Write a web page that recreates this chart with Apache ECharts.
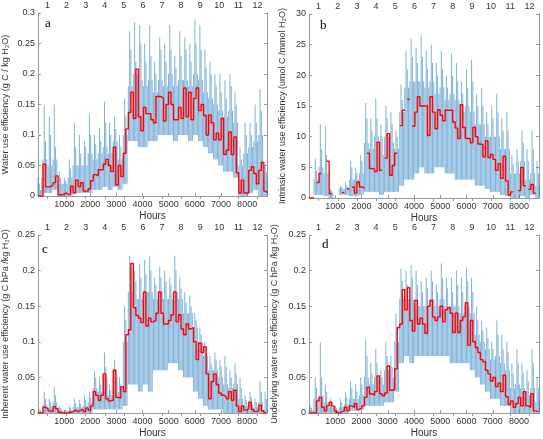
<!DOCTYPE html>
<html lang="en">
<head>
<meta charset="UTF-8">
<title>Water use efficiency</title>
<script src="https://cdn.jsdelivr.net/npm/echarts@6/dist/echarts.min.js"></script>
<style>
    body { margin: 0; padding: 0; background: #fff; }
    #chart { width: 543px; height: 439px; }
</style>
</head>
<body>
<div id="chart"></div>
<script>
// red: 4-day means (96 h steps), blue: hourly values summarised per 192 h window
// (low, highest peak, second peak, typical peak)
var STEP_H = 96;
var WIN_H = 192;
var YEAR_H = 8760;
var hourTicks = [1000, 2000, 3000, 4000, 5000, 6000, 7000, 8000];
var monthTicks = [1, 2, 3, 4, 5, 6, 7, 8, 9, 10, 11, 12];

// ---- a: water use efficiency ----
var redA = [0, 0, 0.052, 0.015, 0.015, 0.018, 0.022, 0.033, 0.002, 0.002,
    0.005, 0.003, 0.003, 0.016, 0.005, 0.026, 0.015, 0.022, 0.008, 0.008,
    0.012, 0.025, 0.035, 0.033, 0.043, 0.043, 0.052, 0.06, 0.05, 0.04,
    0.08, 0.018, 0.05, 0.032, 0.07, 0.11, 0.137, 0.17, 0.127, 0.208,
    0.13, 0.107, 0.145, 0.135, 0.135, 0.125, 0.12, 0.163, 0.163, 0.16,
    0.123, 0.15, 0.17, 0.15, 0.125, 0.125, 0.145, 0.127, 0.177, 0.13,
    0.17, 0.125, 0.16, 0.177, 0.14, 0.15, 0.132, 0.1, 0.133, 0.12,
    0.092, 0.103, 0.092, 0.127, 0.068, 0.075, 0.105, 0.068, 0.097, 0.038,
    0.005, 0.026, 0.005, 0.005, 0.042, 0.048, 0.037, 0.02, 0.042, 0.055,
    0.008, 0.005];
var hiA = [0.02, 0.148, 0.13, 0.15, 0.04, 0.03, 0.06, 0.12, 0.1, 0.09, 0.135, 0.1, 0.11, 0.155, 0.12, 0.13,
    0.1, 0.16, 0.27, 0.285, 0.28, 0.25, 0.28, 0.22, 0.26, 0.25, 0.28, 0.23, 0.27, 0.26, 0.25, 0.288,
    0.28, 0.24, 0.22, 0.2, 0.2, 0.19, 0.2, 0.17, 0.08, 0.12, 0.12, 0.15, 0.175, 0.05];
var hi2A = [0.01, 0.09, 0.1, 0.08, 0.03, 0.025, 0.045, 0.08, 0.07, 0.08, 0.1, 0.085, 0.09, 0.12, 0.1, 0.11,
    0.08, 0.13, 0.24, 0.22, 0.25, 0.22, 0.23, 0.2, 0.24, 0.22, 0.24, 0.21, 0.23, 0.24, 0.22, 0.25,
    0.24, 0.21, 0.2, 0.18, 0.17, 0.16, 0.18, 0.15, 0.06, 0.1, 0.1, 0.12, 0.14, 0.04];
var midA = [0.03, 0.06, 0.05, 0.06, 0.02, 0.02, 0.03, 0.05, 0.05, 0.05, 0.07, 0.06, 0.07, 0.08, 0.07, 0.09,
    0.06, 0.1, 0.18, 0.2, 0.19, 0.18, 0.19, 0.17, 0.19, 0.18, 0.2, 0.18, 0.19, 0.19, 0.18, 0.2,
    0.19, 0.17, 0.16, 0.15, 0.14, 0.13, 0.14, 0.12, 0.05, 0.07, 0.08, 0.09, 0.1, 0.03];
var loA = [0, 0.005, 0.005, 0.01, 0, 0, 0, 0.005, 0.005, 0.005, 0.005, 0.01, 0.01, 0.015, 0.01, 0.015,
    0.01, 0.02, 0.09, 0.09, 0.08, 0.08, 0.09, 0.09, 0.1, 0.1, 0.1, 0.09, 0.1, 0.1, 0.09, 0.1,
    0.09, 0.08, 0.07, 0.06, 0.05, 0.04, 0.04, 0.03, 0, 0, 0.005, 0.01, 0, 0];

// ---- b: intrinsic water use efficiency (null = no data) ----
var redB = [0, 0, null, 2.5, 4.0, null, null, 6.0, 0.7, null,
    null, null, null, 0.87, null, 1.5, null, 1.8, 0.8, 2.6,
    1.8, 1.6, null, 7.3, 4.8, 4.7, 4.3, 9.1, 4.5, null,
    6.5, 10.5, 3.7, 5.3, 7.3, null, 11.8, 14.3, null, 16.1,
    null, 11.7, 14, 16.5, 15, 15, 15, 10.2, 16.5, 14,
    11.3, 14.4, 13.5, 12.6, 14.3, 14.3, 14.3, 12.4, 11.4, 9.7,
    15.2, 11.5, 9.7, 9.7, 9, 11.5, 10, 8.8, 8.7, 6.7,
    9.3, 6.6, 7.1, 6.3, 4.5, 5.6, 3.2, 6.8, 2.8, 0.5,
    1.0, null, null, 1.2, 5.0, 2.0, null, 1.4, 2.2, 0.8,
    null, null];
var hiB = [null, 6.5, 12, 11.7, 1.5, null, 2, 2.5, 6, 5, 7, 15.5, 13, 16.2, 12, 15,
    14, 11, 18.5, 24, 26, 24.5, 26.5, 24, 25, 22, 24, 20, 23.5, 22, 19, 21,
    22.5, 17, 18, 14, 15, 17, 13, 14, 7, 8, 11, 8, 11, 6];
var hi2B = [null, 4.5, 8, 7, 1.2, null, 1.8, 2, 5, 4, 6, 13, 11, 13, 10, 13,
    12, 10, 16, 21, 23, 22, 23, 21, 22, 20, 21, 18, 20, 19, 17, 18,
    19, 15, 15, 12, 13, 14, 11, 11, 5.5, 6, 9, 6, 8, 4];
var midB = [null, 3, 5, 4, 1, null, 1.5, 1.5, 3, 3, 4, 9, 8, 10, 7, 10,
    9, 8, 14, 18, 19, 19, 19, 18, 19, 17, 18, 16, 17, 16, 14, 15,
    14, 12, 12, 10, 10, 10, 8, 8, 4, 4, 6, 3, 4, 2];
var loB = [null, 0.5, 0.5, 0.3, 0, null, 0.5, 0.5, 0.3, 0.3, 0.5, 1, 1, 1, 0.5, 1,
    1, 1, 2, 3, 3, 4, 5, 4, 4, 5, 5, 4, 4, 3, 3, 3,
    3, 2, 2, 1.5, 1, 1, 0.5, 0.3, 0, 0, 0.3, 0, 0.5, 0];

// ---- c: inherent water use efficiency ----
var redC = [0, 0, 0.008, 0.006, 0.003, 0.002, 0.009, 0.006, 0.001, 0,
    0, 0, 0.001, 0.002, 0.004, 0.002, 0.004, 0.005, 0.002, 0.007,
    0.004, 0.01, 0.03, 0.025, 0.018, 0.025, 0.055, 0.02, 0.017, 0.018,
    0.06, 0.022, 0.021, 0.037, 0.03, 0.11, 0.117, 0.21, 0.148, 0.137,
    0.133, 0.127, 0.17, 0.122, 0.133, 0.128, 0.13, 0.14, 0.17, 0.14,
    0.125, 0.125, 0.13, 0.138, 0.17, 0.128, 0.138, 0.118, 0.11, 0.125,
    0.118, 0.12, 0.1, 0.075, 0.098, 0.085, 0.093, 0.055, 0.02, 0.044,
    0.055, 0.04, 0.028, 0.025, 0.023, 0.02, 0.03, 0.018, 0.032, 0.01,
    0.002, 0.01, 0.004, 0.006, 0.015, 0.005, 0.002, 0.003, 0.011, 0.003,
    0, 0];
var hiC = [0.005, 0.03, 0.02, 0.037, 0.01, 0.005, 0.01, 0.02, 0.018, 0.025, 0.03, 0.06, 0.05, 0.085, 0.04, 0.075,
    0.05, 0.15, 0.221, 0.2, 0.21, 0.215, 0.22, 0.19, 0.205, 0.2, 0.19, 0.22, 0.19, 0.17, 0.165, 0.14,
    0.12, 0.1, 0.08, 0.085, 0.075, 0.08, 0.06, 0.07, 0.05, 0.025, 0.03, 0.02, 0.045, 0.03];
var hi2C = [0.004, 0.02, 0.015, 0.025, 0.007, 0.004, 0.007, 0.014, 0.013, 0.018, 0.022, 0.05, 0.04, 0.065, 0.032, 0.062,
    0.04, 0.13, 0.2, 0.185, 0.19, 0.195, 0.2, 0.18, 0.19, 0.185, 0.18, 0.2, 0.175, 0.155, 0.15, 0.13,
    0.11, 0.09, 0.07, 0.075, 0.065, 0.065, 0.05, 0.055, 0.035, 0.018, 0.022, 0.015, 0.03, 0.02];
var midC = [0.002, 0.012, 0.008, 0.015, 0.004, 0.002, 0.004, 0.008, 0.008, 0.01, 0.015, 0.035, 0.03, 0.05, 0.025, 0.05,
    0.03, 0.1, 0.17, 0.16, 0.16, 0.17, 0.17, 0.16, 0.17, 0.16, 0.16, 0.17, 0.16, 0.14, 0.14, 0.12,
    0.1, 0.08, 0.06, 0.06, 0.05, 0.04, 0.035, 0.04, 0.02, 0.01, 0.012, 0.008, 0.015, 0.005];
var loC = [0, 0, 0, 0, 0, 0, 0, 0, 0, 0, 0, 0.005, 0.005, 0.005, 0.005, 0.005,
    0.005, 0.01, 0.04, 0.04, 0.03, 0.04, 0.03, 0.06, 0.06, 0.06, 0.07, 0.07, 0.06, 0.05, 0.05, 0.03,
    0.02, 0.01, 0.005, 0.005, 0.005, 0, 0, 0, 0, 0, 0, 0, 0, 0];

// ---- d: underlying water use efficiency ----
var redD = [0, 0, 0, 0.017, 0.022, 0.008, 0.003, 0.01, 0.015, 0.01,
    0.003, 0, 0.002, 0.003, 0.008, 0.003, 0.01, 0.008, 0.013, 0.005,
    0.007, 0.01, 0.022, 0.036, 0.027, 0.025, 0.03, 0.052, 0.027, 0.024,
    0.028, 0.066, 0.032, 0.033, 0.062, 0.12, 0.125, 0.173, 0.145, 0.176,
    0.13, 0.115, 0.158, 0.125, 0.133, 0.125, 0.112, 0.15, 0.158, 0.135,
    0.13, 0.135, 0.15, 0.128, 0.145, 0.148, 0.14, 0.113, 0.14, 0.113,
    0.13, 0.135, 0.155, 0.095, 0.13, 0.1, 0.092, 0.085, 0.075, 0.072,
    0.06, 0.055, 0.045, 0.05, 0.037, 0.042, 0.03, 0.053, 0.023, 0.012,
    0.017, 0.008, 0.013, 0.022, 0.01, 0.03, 0.01, 0.008, 0.027, 0.003,
    0.002, 0.002];
var hiD = [0.01, 0.05, 0.099, 0.04, 0.02, 0.01, 0.02, 0.03, 0.045, 0.04, 0.05, 0.103, 0.07, 0.09, 0.06, 0.1,
    0.08, 0.14, 0.203, 0.2, 0.208, 0.2, 0.185, 0.19, 0.2, 0.18, 0.21, 0.19, 0.19, 0.2, 0.19, 0.205,
    0.19, 0.15, 0.13, 0.12, 0.1, 0.13, 0.11, 0.1, 0.07, 0.09, 0.07, 0.06, 0.09, 0.05];
var hi2D = [0.007, 0.035, 0.05, 0.03, 0.015, 0.007, 0.015, 0.022, 0.035, 0.03, 0.04, 0.08, 0.055, 0.07, 0.05, 0.08,
    0.065, 0.12, 0.185, 0.18, 0.19, 0.18, 0.17, 0.175, 0.185, 0.17, 0.19, 0.175, 0.17, 0.18, 0.17, 0.185,
    0.17, 0.13, 0.115, 0.105, 0.09, 0.11, 0.09, 0.085, 0.055, 0.07, 0.055, 0.045, 0.07, 0.035];
var midD = [0.004, 0.02, 0.025, 0.015, 0.008, 0.004, 0.008, 0.012, 0.02, 0.02, 0.025, 0.05, 0.04, 0.05, 0.04, 0.06,
    0.05, 0.1, 0.16, 0.16, 0.16, 0.15, 0.15, 0.15, 0.16, 0.15, 0.16, 0.15, 0.15, 0.15, 0.14, 0.15,
    0.14, 0.11, 0.1, 0.09, 0.075, 0.08, 0.07, 0.06, 0.035, 0.04, 0.035, 0.025, 0.035, 0.015];
var loD = [0, 0, 0, 0, 0, 0, 0, 0, 0.003, 0.003, 0.005, 0.01, 0.01, 0.01, 0.01, 0.015,
    0.015, 0.03, 0.07, 0.08, 0.07, 0.08, 0.08, 0.08, 0.08, 0.08, 0.08, 0.08, 0.07, 0.07, 0.07, 0.07,
    0.06, 0.05, 0.04, 0.03, 0.02, 0.02, 0.01, 0.01, 0, 0, 0, 0, 0, 0];

// step outline of the 4-day means, gaps where there is no value
function stepData(vals) {
    var out = [];
    for (var k = 0; k < vals.length; k++) {
        var s = k * STEP_H, e = Math.min((k + 1) * STEP_H, YEAR_H);
        if (vals[k] === null) { out.push([s, '-']); continue; }
        out.push([s, vals[k]], [e, vals[k]]);
    }
    return out;
}

// separate vertical strokes every 48 h (night gaps between them)
function spikeData(hi, hi2, mid, lo) {
    var out = [];
    for (var j = 0; j < hi.length; j++) {
        var t = j * WIN_H;
        if (hi[j] === null) { out.push([t, '-']); continue; }
        var tops = [mid[j], hi[j], hi2[j], mid[j]];
        for (var q = 0; q < 4; q++) {
            out.push([t + q * 48, lo[j]], [t + q * 48, tops[q]], [t + q * 48, '-']);
        }
    }
    return out;
}

var panels = [
    { id: 'a', red: redA, hi: hiA, hi2: hi2A, mid: midA, lo: loA, max: 0.3, step: 0.05, gap: 28,
      name: 'Water use efficiency (g C / kg H\u2082O)', grid: { left: 36, top: 13, width: 231, height: 183 }, tag: [49, 25] },
    { id: 'b', red: redB, hi: hiB, hi2: hi2B, mid: midB, lo: loB, max: 30, step: 5, gap: 22,
      name: 'Intrinsic water use efficiency (umol C /mmol H\u2082O)', grid: { left: 309, top: 14, width: 230, height: 184 }, tag: [324, 27] },
    { id: 'c', red: redC, hi: hiC, hi2: hi2C, mid: midC, lo: loC, max: 0.25, step: 0.05, gap: 28,
      name: 'Inherent water use efficiency (g C hPa /kg H\u2082O)', grid: { left: 36, top: 235, width: 231, height: 183 }, tag: [46, 251] },
    { id: 'd', red: redD, hi: hiD, hi2: hi2D, mid: midD, lo: loD, max: 0.25, step: 0.05, gap: 30,
      name: 'Underlying water use efficiency (g C hPa /kg H\u2082O)', grid: { left: 309, top: 235, width: 230, height: 183 }, tag: [326, 246] }
];

var FONT = 'Liberation Sans';
var boxLine = { show: true, lineStyle: { color: '#999', width: 1 } };
var inTick = { show: true, inside: true, length: 3, lineStyle: { color: '#999' } };

var grids = [], xAxes = [], yAxes = [], series = [], graphics = [];
panels.forEach(function (p, i) {
    grids.push(p.grid);
    xAxes.push({
        gridIndex: i, type: 'value', position: 'bottom', min: 0, max: YEAR_H,
        axisLine: boxLine, axisTick: Object.assign({ customValues: hourTicks }, inTick),
        axisLabel: { customValues: hourTicks, fontSize: 9, color: '#333', fontFamily: FONT, margin: 4,
            formatter: function (v) { return String(v); } },
        splitLine: { show: false },
        name: 'Hours', nameLocation: 'middle', nameGap: 15,
        nameTextStyle: { fontSize: 10, color: '#333', fontFamily: FONT }
    });
    xAxes.push({
        gridIndex: i, type: 'value', position: 'top', min: 0.5, max: 12.5,
        axisLine: boxLine, axisTick: Object.assign({ customValues: monthTicks }, inTick),
        axisLabel: { customValues: monthTicks, fontSize: 9, color: '#333', fontFamily: FONT, margin: 3 },
        splitLine: { show: false }
    });
    yAxes.push({
        gridIndex: i, type: 'value', position: 'left', min: 0, max: p.max, interval: p.step,
        axisLine: boxLine, axisTick: inTick,
        axisLabel: { fontSize: 9, color: '#333', fontFamily: FONT, margin: 3 },
        splitLine: { show: false },
        name: p.name, nameLocation: 'middle', nameGap: p.gap, nameRotate: 90,
        nameTextStyle: { fontSize: 9, color: '#333', fontFamily: FONT }
    });
    yAxes.push({
        gridIndex: i, type: 'value', position: 'right', min: 0, max: p.max, interval: p.step,
        axisLine: boxLine, axisTick: inTick, axisLabel: { show: false }, splitLine: { show: false }
    });
    series.push({
        type: 'line', xAxisIndex: 2 * i, yAxisIndex: 2 * i, data: spikeData(p.hi, p.hi2, p.mid, p.lo),
        showSymbol: false, connectNulls: false, silent: true, animation: false,
        lineStyle: { color: '#1f78bd', width: 0.8, opacity: 0.72 }
    });
    series.push({
        type: 'line', xAxisIndex: 2 * i, yAxisIndex: 2 * i, data: stepData(p.red),
        showSymbol: false, connectNulls: false, silent: true, animation: false,
        lineStyle: { color: '#ff0000', width: 1.4 }
    });
    graphics.push({
        type: 'text', left: p.tag[0] - 4, top: p.tag[1] - 8,
        style: { text: p.id, font: '13px "Liberation Serif"', fill: '#000' }
    });
});

var myChart = echarts.init(document.getElementById('chart'));
myChart.setOption({
    animation: false,
    backgroundColor: '#fff',
    grid: grids,
    xAxis: xAxes,
    yAxis: yAxes,
    series: series,
    graphic: graphics
});
</script>
</body>
</html>
